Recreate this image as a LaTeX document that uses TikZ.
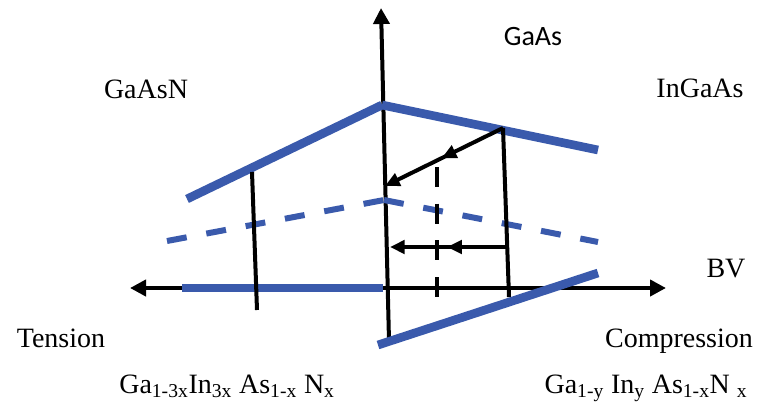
\documentclass[tikz,border=0pt]{standalone}
\usepackage{fontspec}
\setmainfont{Liberation Serif}
\newfontfamily\sansgaas{Carlito}
\usetikzlibrary{arrows.meta, decorations.markings}
\definecolor{bandblue}{RGB}{58,90,172}

\begin{document}
\begin{tikzpicture}[
    x=0.75pt, y=-0.75pt,
    axis/.style={line width=3pt, {Triangle[length=12pt,width=12pt]}-{Triangle[length=12pt,width=12pt]}},
    upaxis/.style={line width=3pt, -{Triangle[length=12pt,width=12pt]}},
    blackline/.style={line width=3pt},
    blackdash/.style={line width=3pt, dash pattern=on 15pt off 12.5pt},
    band/.style={line width=6.5pt, draw=bandblue},
    banddash/.style={line width=4.5pt, draw=bandblue, dash pattern=on 15pt off 15pt},
    midarrow/.style={
        blackline,
        -{Triangle[length=11pt,width=10pt]},
        postaction={decorate},
        decoration={markings, mark=at position 0.52 with {\arrow{Triangle[length=11pt,width=10pt]}}}
    },
    lbl/.style={font=\fontsize{21}{25}\selectfont, anchor=base, inner sep=0pt}
]
    \useasboundingbox (0,0) rectangle (757,415);

    % AXES
    \coordinate (ybot) at (389,341);
    \coordinate (ytop) at (381,8);
    \coordinate (xleft) at (130,288);
    \coordinate (xright) at (666,288);
    \draw[axis] (xleft) -- (xright);
    \draw[upaxis] (ybot) -- (ytop);

    % BAND EDGES
    \coordinate (gaas) at (382,105);
    \coordinate (gaasd) at (384,200);
    \draw[band] (187,199) -- (gaas);
    \draw[band] (gaas) -- (598,150);
    \draw[banddash] (167,241) -- (gaasd);
    \draw[banddash] (gaasd) -- (598,242);
    \draw[band] (182,288) -- (383,288);
    \draw[band] (378,345) -- (598,273);

    % OFFSETS
    \coordinate (nl_top) at (252,172);
    \coordinate (nl_bot) at (257,310);
    \coordinate (in_top) at (503,128);
    \coordinate (in_bot) at (509,297);
    \coordinate (in_mid) at (509,247);
    \coordinate (ax_hit) at (385,186);
    \coordinate (ax_mid) at (390,247);
    \draw[blackline] (nl_top) -- (nl_bot);
    \draw[blackline] (in_top) -- (in_bot);
    \draw[blackdash] (437,167) -- (437,298);
    \draw[midarrow] (in_top) -- (ax_hit);
    \draw[midarrow] (in_mid) -- (ax_mid);

    % LABELS
    \node[lbl, font=\fontsize{21}{25}\sansgaas] (l_gaas) at (533,45) {GaAs};
    \node[lbl] (l_gaasn) at (146,98) {GaAsN};
    \node[lbl] (l_ingaas) at (700,97) {InGaAs};
    \node[lbl] (l_bv) at (726,277) {BV};
    \node[lbl] (l_tens) at (61,347) {Tension};
    \node[lbl] (l_comp) at (679,347) {Compression};
    \node[lbl] (f_left) at (227,393) {Ga\textsubscript{1-3x}In\textsubscript{3x} As\textsubscript{1-x} N\textsubscript{x}};
    \node[lbl] (f_right) at (646,393) {Ga\textsubscript{1-y} In\textsubscript{y} As\textsubscript{1-x}N \textsubscript{x}};

\end{tikzpicture}
\end{document}
